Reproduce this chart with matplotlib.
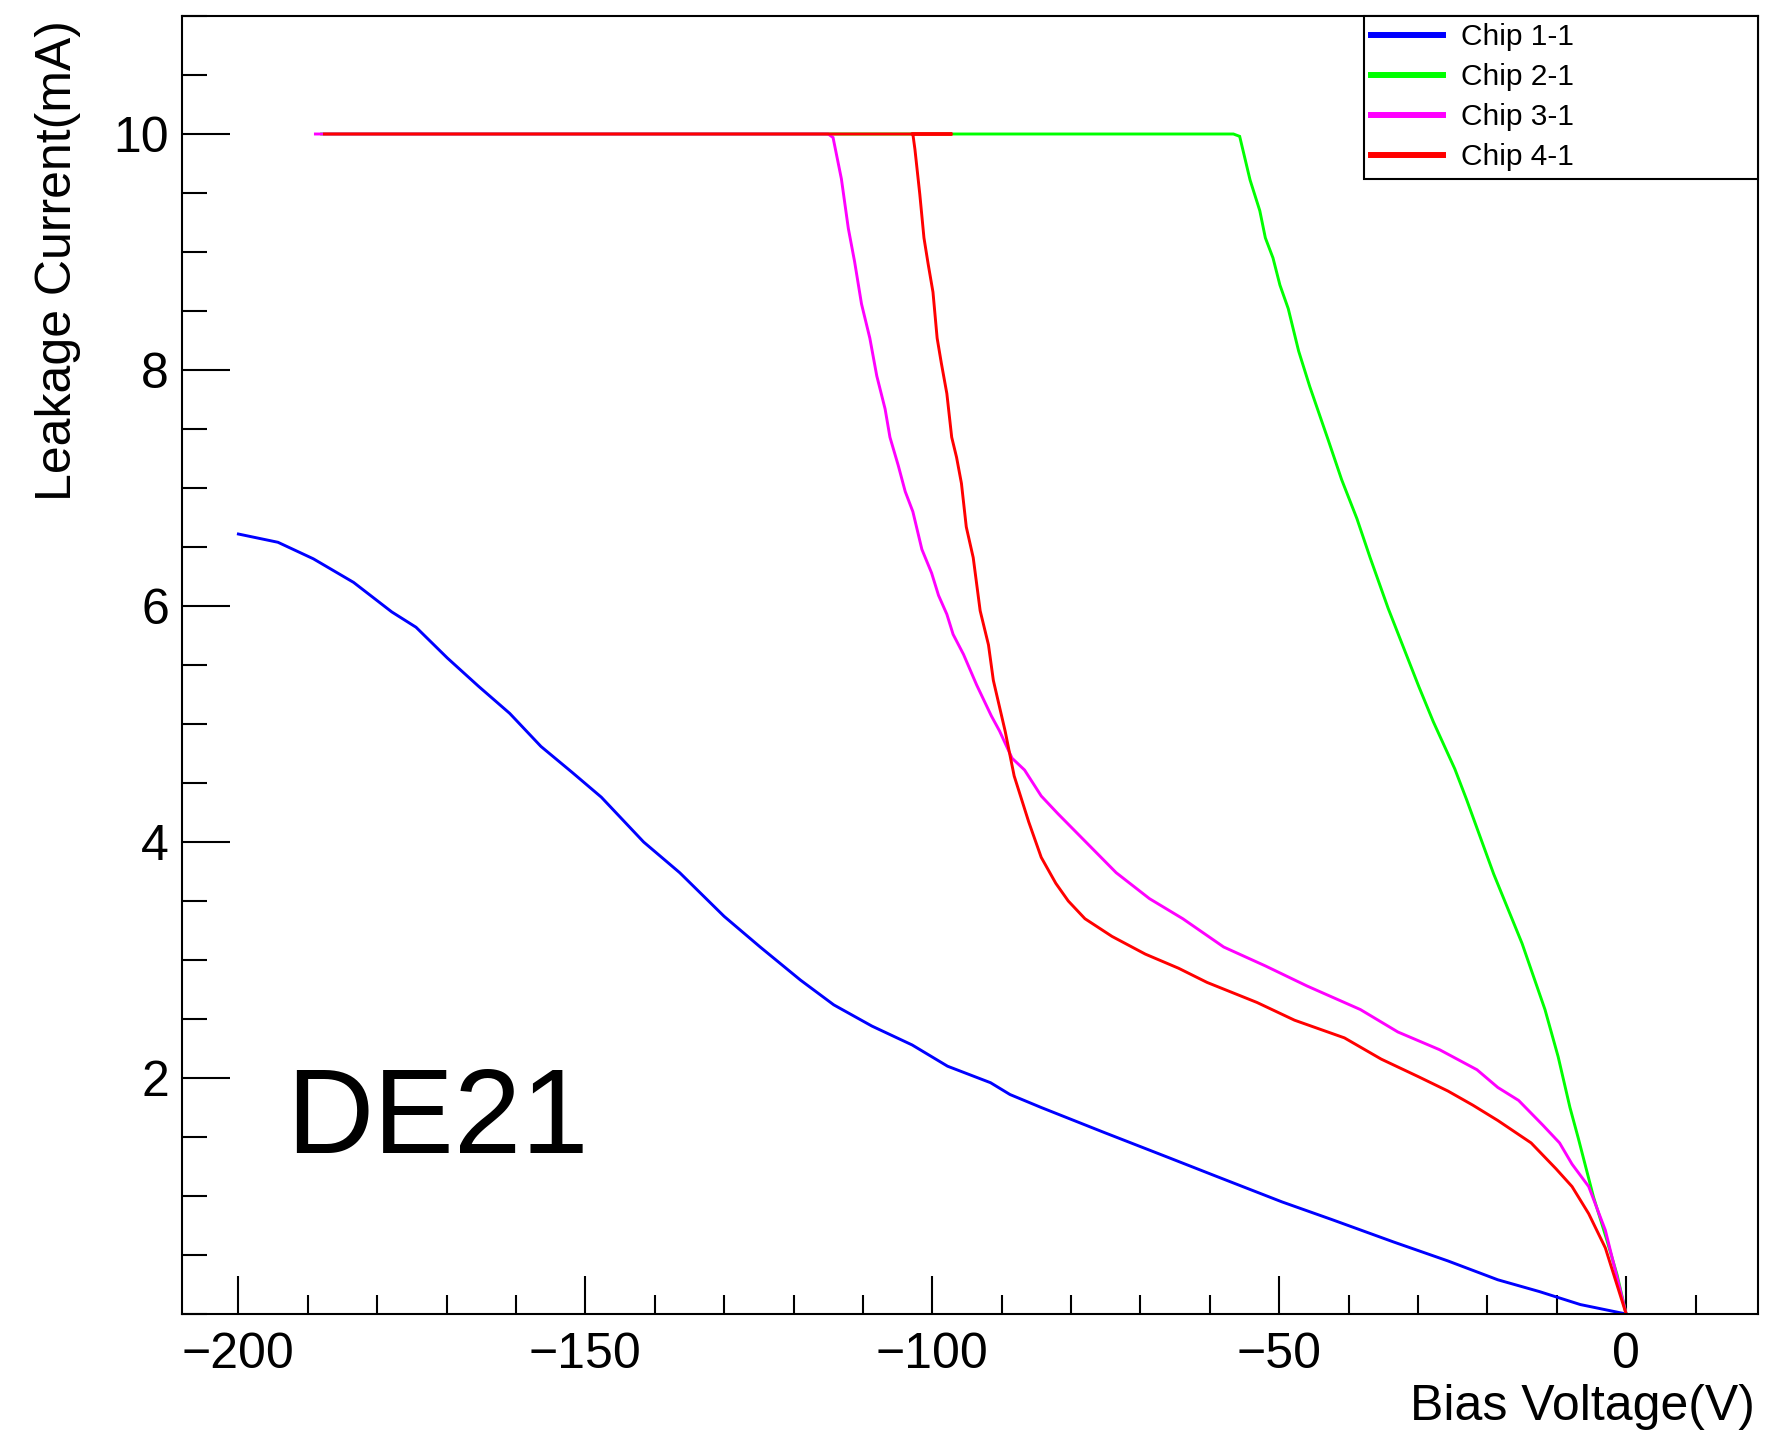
"""Leakage current vs bias voltage for the four DE21 chips (IV scan)."""
import matplotlib
matplotlib.use("Agg")
import matplotlib.pyplot as plt
from matplotlib.ticker import MultipleLocator, FixedLocator

plt.rcParams["font.family"] = ["Liberation Sans", "DejaVu Sans"]

# sweep order: 0 V outwards; current is clamped at the 10 mA compliance
chip1_v = [-200, -194.3, -189.2, -183.4, -177.9, -174.4, -169.9, -165.4,
           -160.9, -156.4, -151.9, -147.7, -141.6, -136.4, -130, -124.8,
           -119, -114.2, -108.7, -102.9, -97.8, -91.6, -88.8, -84.3, -75.3,
           -65.7, -59.2, -49.6, -42.4, -33.5, -25.7, -18.5, -12.5, -6.6, 0]
chip1_i = [6.61, 6.54, 6.40, 6.20, 5.95, 5.82, 5.56, 5.32, 5.09, 4.81, 4.59,
           4.38, 4.00, 3.74, 3.37, 3.11, 2.83, 2.62, 2.44, 2.28, 2.10, 1.96,
           1.86, 1.75, 1.54, 1.32, 1.17, 0.95, 0.80, 0.61, 0.45, 0.29, 0.19,
           0.08, 0.0]

chip2_v = [0, -1.3, -2.8, -4.7, -6.9, -8.1, -9.8, -11.7, -15.0, -19.1, -23.0,
           -24.7, -27.8, -29.9, -32.1, -34.3, -36.9, -38.8, -41.0, -42.9,
           -45.6, -47.2, -48.7, -49.9, -50.9, -52.0, -52.8, -54.2, -55.7,
           -56.6, -188]
chip2_i = [0, 0.33, 0.63, 0.99, 1.49, 1.75, 2.18, 2.58, 3.14, 3.73, 4.36,
           4.62, 5.02, 5.32, 5.65, 5.98, 6.41, 6.74, 7.07, 7.40, 7.86, 8.16,
           8.52, 8.72, 8.95, 9.12, 9.35, 9.61, 9.98, 10, 10]

chip3_v = [0, -3.0, -5.4, -7.8, -9.6, -12.0, -15.5, -18.5, -21.5, -26.9,
           -32.9, -38.3, -46.0, -52.0, -58.0, -63.9, -68.7, -73.5, -77.7,
           -81.9, -84.3, -86.7, -88.5, -90.3, -91.5, -93.6, -95.5, -97.0,
           -97.9, -99.1, -100.1, -101.5, -102.8, -103.9, -104.9, -106.1,
           -106.8, -108.0, -109.0, -110.2, -111.2, -112.1, -113.1, -114.3,
           -115.0, -188.9]
chip3_i = [0, 0.71, 1.08, 1.27, 1.45, 1.60, 1.81, 1.92, 2.07, 2.24, 2.39,
           2.58, 2.78, 2.95, 3.11, 3.35, 3.52, 3.74, 3.99, 4.24, 4.39, 4.61,
           4.71, 4.94, 5.07, 5.33, 5.59, 5.76, 5.93, 6.09, 6.28, 6.48, 6.80,
           6.97, 7.19, 7.43, 7.67, 7.95, 8.27, 8.56, 8.92, 9.20, 9.62, 9.97,
           10.0, 10.0]

chip4_v = [0, -3.0, -5.4, -7.8, -10.1, -13.7, -18.5, -22.1, -25.7, -29.9,
           -35.3, -40.6, -47.8, -53.2, -60.4, -64.5, -69.3, -74.1, -78.0,
           -80.4, -82.2, -84.3, -86.1, -88.2, -89.5, -91.2, -91.9, -93.1,
           -94.1, -95.1, -95.8, -96.5, -97.2, -97.9, -98.7, -99.3, -99.9,
           -100.6, -101.2, -101.8, -102.5, -102.8, -97.1, -187.6]
chip4_i = [0, 0.56, 0.85, 1.08, 1.23, 1.45, 1.64, 1.77, 1.89, 2.01, 2.16,
           2.34, 2.49, 2.64, 2.81, 2.93, 3.05, 3.20, 3.35, 3.50, 3.65, 3.87,
           4.17, 4.56, 4.94, 5.37, 5.67, 5.96, 6.41, 6.67, 7.04, 7.26, 7.43,
           7.80, 8.06, 8.27, 8.66, 8.90, 9.12, 9.49, 9.87, 10.0, 10.0, 10.0]

labels = ["Chip 1-1", "Chip 2-1", "Chip 3-1", "Chip 4-1"]
colors = ["#0000FF", "#00FF00", "#FF00FF", "#FF0000"]
series = [(chip1_v, chip1_i), (chip2_v, chip2_i),
          (chip3_v, chip3_i), (chip4_v, chip4_i)]

W, H = 1768, 1441
fig = plt.figure(figsize=(W / 100, H / 100), dpi=100)
ax = fig.add_axes([181.5 / W, 127 / H, (1758 - 181.5) / W, 1298 / H])

for (v, i), c, lab in zip(series, colors, labels):
    ax.plot(v, i, color=c, lw=2.1, label=lab, solid_joinstyle="miter")

ax.set_xlim(-208.2, 19.0)
ax.set_ylim(0, 11)

ax.xaxis.set_major_locator(FixedLocator([-200, -150, -100, -50, 0]))
ax.xaxis.set_minor_locator(MultipleLocator(10))
ax.yaxis.set_major_locator(FixedLocator([2, 4, 6, 8, 10]))
ax.yaxis.set_minor_locator(MultipleLocator(0.5))

ax.tick_params(axis="both", which="both", direction="in",
               top=False, right=False, width=1.5, labelsize=36)
ax.tick_params(axis="x", which="major", length=27.4, pad=13)
ax.tick_params(axis="x", which="minor", length=13.7)
ax.tick_params(axis="y", which="major", length=34.5, pad=9)
ax.tick_params(axis="y", which="minor", length=18)
for sp in ax.spines.values():
    sp.set_linewidth(1.5)

fig.text(1755 / W, 1 - 1420 / H, "Bias Voltage(V)", fontsize=36,
         ha="right", va="baseline")
fig.text(71 / W, 1 - 20 / H, "Leakage Current(mA)", fontsize=36,
         rotation=90, rotation_mode="anchor", ha="right", va="baseline")
fig.text(286 / W, 1 - 1153 / H, "DE21", fontsize=87,
         ha="left", va="baseline")

leg = ax.legend(loc="upper left", bbox_to_anchor=(0.750, 0.874, 0.250, 0.126),
                mode="expand", borderaxespad=0, fontsize=21.5,
                fancybox=False, framealpha=1, edgecolor="black",
                borderpad=0.25, labelspacing=0.4, handlelength=2.4,
                handletextpad=0.6)
leg.get_frame().set_linewidth(1.5)
for ln in leg.get_lines():
    ln.set_linewidth(4.3)

fig.savefig("out.png", dpi=100, facecolor="white")
